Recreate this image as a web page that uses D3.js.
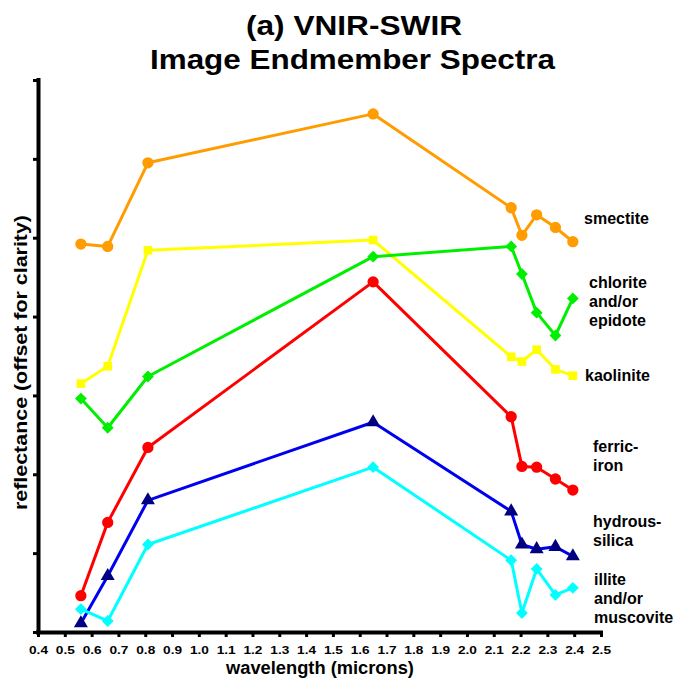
<!DOCTYPE html>
<html>
<head>
<meta charset="utf-8">
<script src="https://cdn.jsdelivr.net/npm/d3@7"></script>
<style>
  body { margin: 0; background: #fff; }
  text { font-family: "Liberation Sans", Arial, sans-serif; font-weight: bold; }
</style>
</head>
<body>
<div id="chart"></div>
<script>
// band centres of the sensor (microns)
let wavelengths = [0.56, 0.66, 0.81, 1.65, 2.165, 2.205, 2.26, 2.33, 2.395];

// reflectance, offset for clarity (arbitrary units)
let smectite  = [4.92, 4.89, 5.95, 6.57, 5.38, 5.03, 5.29, 5.13, 4.95];
let kaolinite = [3.15, 3.37, 4.84, 4.97, 3.49, 3.43, 3.58, 3.33, 3.25];
let chlorite  = [2.96, 2.59, 3.24, 4.76, 4.89, 4.54, 4.05, 3.76, 4.23];
let ferric    = [0.46, 1.39, 2.34, 4.44, 2.73, 2.10, 2.09, 1.94, 1.80];
let hydrous   = [0.11, 0.71, 1.67, 2.66, 1.53, 1.11, 1.05, 1.08, 0.96];
let illite    = [0.29, 0.14, 1.11, 2.09, 0.91, 0.24, 0.80, 0.47, 0.56];

let xTicks = d3.range(4, 26).map(d => d / 10);
let yTicks = d3.range(0, 8);

let series = [
  {name: ["smectite"], values: smectite, line: "#ff9c00", fill: "#ff9c00", shape: d3.symbolCircle, size: 100, rot: 0, lx: 584, ly: 224},
  {name: ["kaolinite"], values: kaolinite, line: "#ffff00", fill: "#ffff00", shape: d3.symbolSquare, size: 75, rot: 0, lx: 585, ly: 381},
  {name: ["chlorite", "and/or", "epidote"], values: chlorite, line: "#00ee00", fill: "#00ee00", shape: d3.symbolSquare, size: 70, rot: 45, lx: 589, ly: 288},
  {name: ["ferric-", "iron"], values: ferric, line: "#ff0000", fill: "#ff0000", shape: d3.symbolCircle, size: 100, rot: 0, lx: 593, ly: 452},
  {name: ["hydrous-", "silica"], values: hydrous, line: "#0000f0", fill: "#000080", shape: d3.symbolTriangle, size: 85, rot: 0, lx: 593, ly: 527},
  {name: ["illite", "and/or", "muscovite"], values: illite, line: "#00ffff", fill: "#00ffff", shape: d3.symbolSquare, size: 70, rot: 45, lx: 594, ly: 585}
];

let W = 678, H = 680;
let mLeft = 38, mRight = 601, mTop = 80, mBottom = 632;

let svg = d3.select("#chart").append("svg")
    .attr("width", W)
    .attr("height", H);

let x = d3.scaleLinear().domain([0.4, 2.5]).range([mLeft, mRight]);
let y = d3.scaleLinear().domain([0, 7]).range([mBottom, mTop]);

// Title (the original type is a little stretched sideways)
svg.append("text")
    .attr("x", 246).attr("y", 35)
    .attr("textLength", 216).attr("lengthAdjust", "spacingAndGlyphs")
    .style("font-size", "28px")
    .text("(a) VNIR-SWIR");
svg.append("text")
    .attr("x", 150).attr("y", 68.5)
    .attr("textLength", 405).attr("lengthAdjust", "spacingAndGlyphs")
    .style("font-size", "28px")
    .text("Image Endmember Spectra");

// Axes
let xAxis = d3.axisBottom(x).tickValues(xTicks).tickFormat(d3.format(".1f")).tickSize(5).tickSizeOuter(0);
let yAxis = d3.axisLeft(y).tickValues(yTicks).tickFormat("").tickSize(5).tickSizeOuter(0);

let gx = svg.append("g")
    .attr("transform", `translate(0,${mBottom})`)
    .call(xAxis);
gx.select(".domain").attr("stroke-width", 4).attr("d", `M${mLeft - 2},0.5H${mRight + 2}`);
gx.selectAll(".tick line").attr("stroke-width", 3);
gx.selectAll(".tick text")
    .style("font-size", "10.5px")
    .style("font-family", "'Liberation Sans', Arial, sans-serif")
    .attr("y", 22).attr("dy", 0)
    .attr("transform", "scale(1.3,1)")
    .attr("fill", "#000");

let gy = svg.append("g")
    .attr("transform", `translate(${mLeft},0)`)
    .call(yAxis);
gy.select(".domain").attr("stroke-width", 4).attr("d", `M0.5,${mTop - 2}V${mBottom + 2}`);
gy.selectAll(".tick line").attr("stroke-width", 3);

// Axis titles
svg.append("text")
    .attr("x", 320).attr("y", 674)
    .attr("text-anchor", "middle")
    .style("font-size", "18.3px")
    .text("wavelength (microns)");
svg.append("text")
    .attr("transform", `translate(27,${510})rotate(-90)`)
    .attr("textLength", 295).attr("lengthAdjust", "spacingAndGlyphs")
    .style("font-size", "18.5px")
    .text("reflectance (offset for clarity)");

// Spectra
let line = d3.line()
    .x((d, i) => x(wavelengths[i]))
    .y(d => y(d));

series.forEach(s => {
  svg.append("path")
      .datum(s.values)
      .attr("fill", "none")
      .attr("stroke", s.line)
      .attr("stroke-width", 3)
      .attr("stroke-linejoin", "round")
      .attr("d", line);

  svg.selectAll(null)
      .data(s.values)
      .enter()
      .append("path")
      .attr("transform", (d, i) => `translate(${x(wavelengths[i])},${y(d)})rotate(${s.rot})`)
      .attr("d", d3.symbol().type(s.shape).size(s.size))
      .attr("fill", s.fill);

  let t = svg.append("text")
      .attr("x", s.lx).attr("y", s.ly)
      .style("font-size", "16px");
  s.name.forEach((n, k) => {
    t.append("tspan").attr("x", s.lx).attr("dy", k === 0 ? 0 : 19).text(n);
  });
});
</script>
</body>
</html>
